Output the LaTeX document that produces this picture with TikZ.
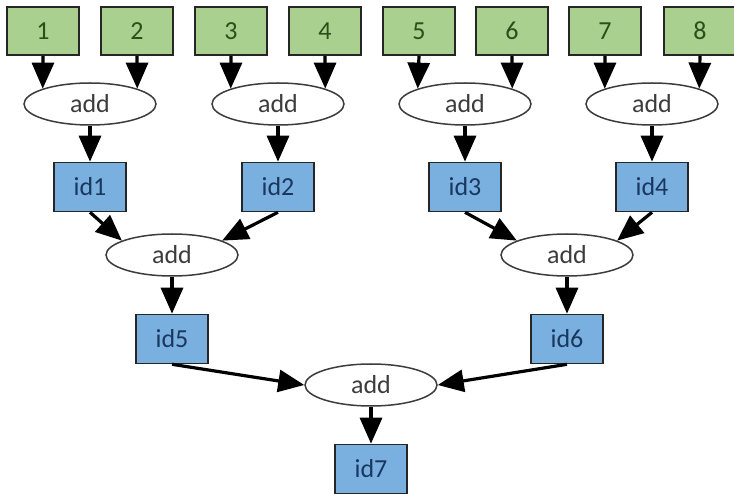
\documentclass[tikz,border=0pt]{standalone}
\usepackage{fontspec}
\setmainfont{Carlito}
\usetikzlibrary{arrows.meta,shapes.geometric}
\definecolor{leafgreen}{RGB}{169,208,142}
\definecolor{leaftext}{RGB}{40,80,25}
\definecolor{idblue}{RGB}{122,176,224}
\definecolor{idtext}{RGB}{25,55,95}
\definecolor{opgray}{RGB}{60,60,60}
\tikzset{
  leaf/.style={draw=black!85,line width=1.6pt,fill=leafgreen,text=leaftext,minimum width=72pt,minimum height=48pt,inner sep=0pt},
  idbox/.style={draw=black!85,line width=1.6pt,fill=idblue,text=idtext,minimum width=72pt,minimum height=49pt,inner sep=0pt},
  addop/.style={ellipse,draw=opgray,line width=1.5pt,text=opgray,minimum width=132pt,minimum height=42pt,inner sep=0pt},
  flow/.style={line width=3.2pt,-{Triangle[length=26pt,width=22pt]}}
}

\begin{document}
\begin{tikzpicture}[x=1pt,y=-1pt,font=\fontsize{26}{29}\selectfont]
\useasboundingbox (0,0) rectangle (734,494);

% inputs
\node[leaf] (n1) at (43,31) {1}; \node[leaf] (n2) at (137,31) {2};
\node[leaf] (n3) at (231,31) {3}; \node[leaf] (n4) at (325,31) {4};
\node[leaf] (n5) at (419,31) {5}; \node[leaf] (n6) at (512,31) {6};
\node[leaf] (n7) at (605,31) {7}; \node[leaf] (n8) at (700,31) {8};

% first level
\node[addop] (add1) at (90,104) {add};  \node[addop] (add2) at (278,104) {add};
\node[addop] (add3) at (465,104) {add}; \node[addop] (add4) at (652,104) {add};
\node[idbox] (id1) at (90,187) {id1};   \node[idbox] (id2) at (278,187) {id2};
\node[idbox] (id3) at (465,187) {id3};  \node[idbox] (id4) at (652,187) {id4};

% second level
\node[addop] (add5) at (172,255) {add}; \node[addop] (add6) at (567,255) {add};
\node[idbox] (id5) at (172,339) {id5};  \node[idbox] (id6) at (567,339) {id6};

% last level
\node[addop] (add7) at (371,385) {add};
\node[idbox] (id7) at (371,469) {id7};

\draw[flow] (n1.south) -- (add1.162); \draw[flow] (n2.south) -- (add1.18);
\draw[flow] (n3.south) -- (add2.162); \draw[flow] (n4.south) -- (add2.18);
\draw[flow] (n5.south) -- (add3.162); \draw[flow] (n6.south) -- (add3.18);
\draw[flow] (n7.south) -- (add4.162); \draw[flow] (n8.south) -- (add4.18);

\draw[flow] (add1.south) -- (id1.north); \draw[flow] (add2.south) -- (id2.north);
\draw[flow] (add3.south) -- (id3.north); \draw[flow] (add4.south) -- (id4.north);

\draw[flow] (id1.south) -- (add5.164); \draw[flow] (id2.south) -- (add5.16);
\draw[flow] (id3.south) -- (add6.164); \draw[flow] (id4.south) -- (add6.16);
\draw[flow] (add5.south) -- (id5.north); \draw[flow] (add6.south) -- (id6.north);

\draw[flow] (id5.south) -- (add7.west); \draw[flow] (id6.south) -- (add7.east);
\draw[flow] (add7.south) -- (id7.north);
\end{tikzpicture}
\end{document}
